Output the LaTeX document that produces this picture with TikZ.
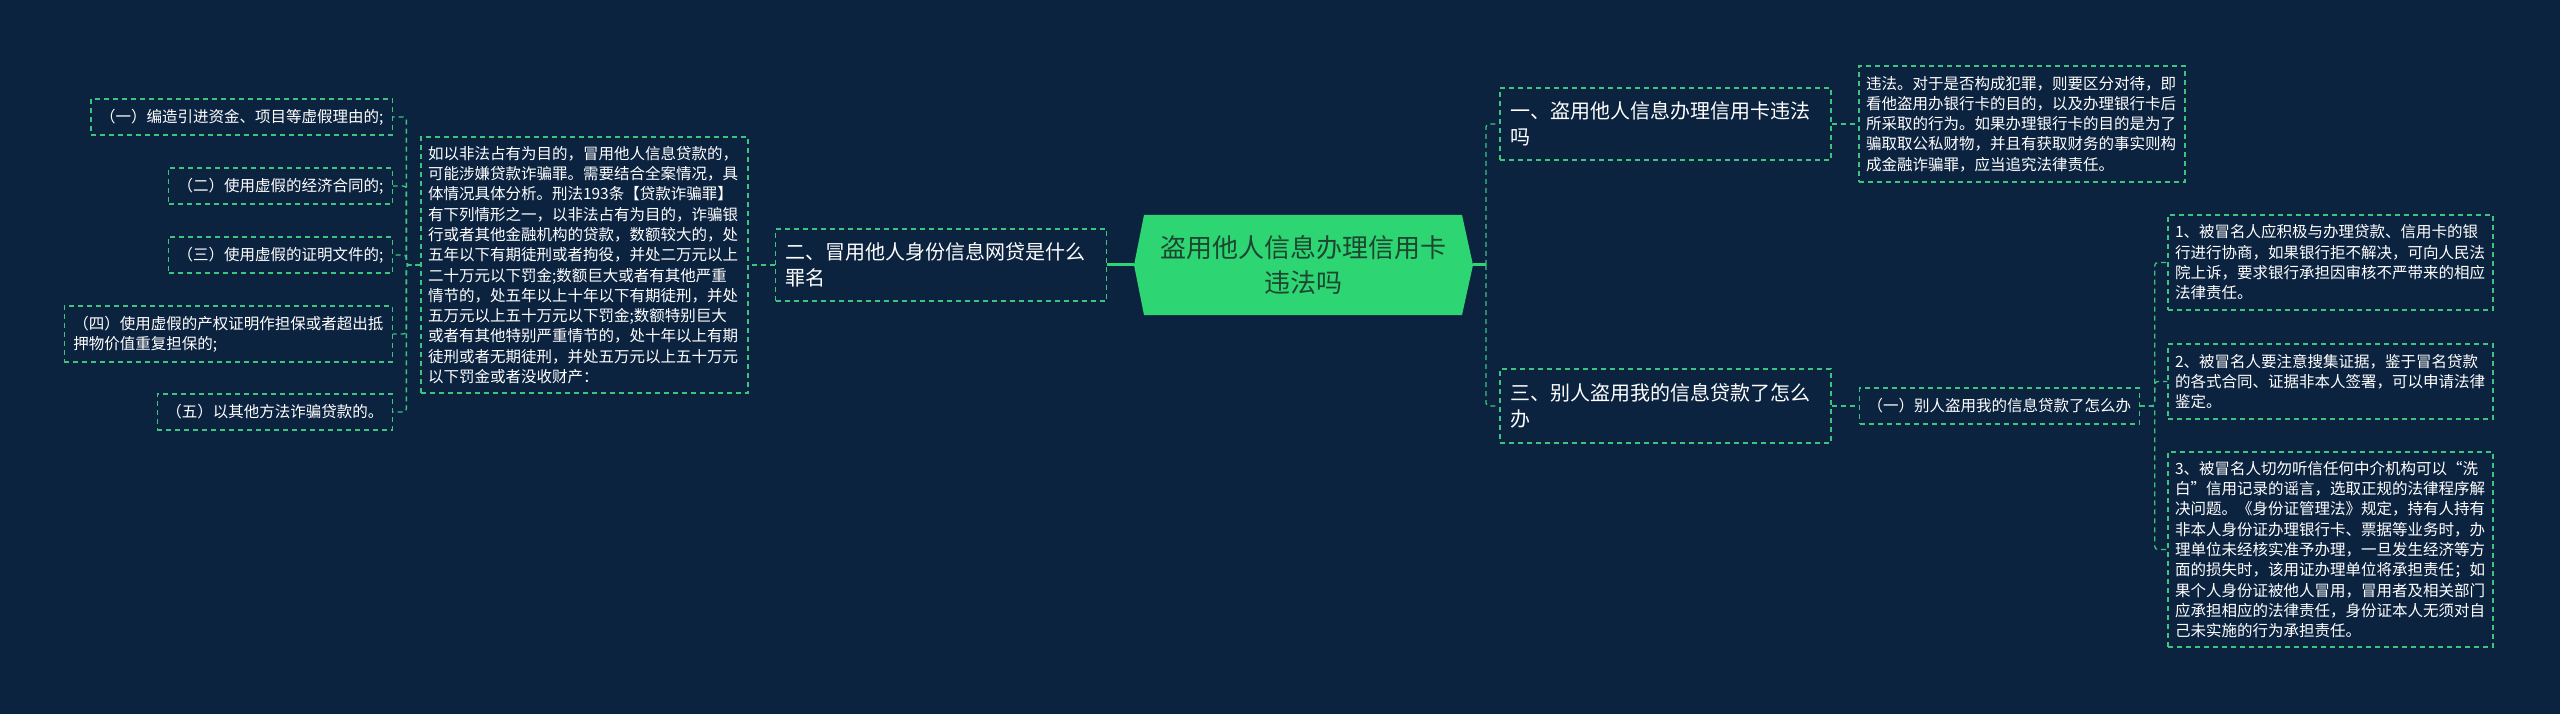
\documentclass[tikz,border=0pt]{standalone}
\usepackage{fontspec}
\setmainfont{Noto Sans CJK SC}
\definecolor{bgc}{HTML}{0C2340}
\definecolor{lg}{HTML}{3DC47E}
\definecolor{hexc}{HTML}{2ED573}
\definecolor{hextxt}{HTML}{1D4630}
\tikzset{
  bx/.style={draw=lg, dash pattern=on 5pt off 4pt, line width=1.3pt, text=white, inner ysep=0pt, align=left},
  sm/.style={font=\fontsize{15.5}{20.3}\selectfont},
  bigf/.style={font=\fontsize{20}{26.5}\selectfont},
  para/.style={bx, sm, text width=#1, inner xsep=7pt},
  item/.style={bx, sm, inner xsep=9pt, minimum height=36pt},
  topic/.style={bx, bigf, text width=311pt, inner xsep=10pt},
  conn/.style={draw=lg, dash pattern=on 5pt off 4pt, line width=1.3pt, rounded corners=3pt},
  solidconn/.style={draw=hexc, line width=3pt},
  hexnode/.style={minimum width=339pt, minimum height=100pt, inner sep=0pt, align=center, text=hextxt,
    font=\fontsize{26}{35}\selectfont,
    path picture={\fill[hexc] (path picture bounding box.west) -- ([xshift=10pt]path picture bounding box.north west) -- ([xshift=-11pt]path picture bounding box.north east) -- (path picture bounding box.east) -- ([xshift=-11pt]path picture bounding box.south east) -- ([xshift=10pt]path picture bounding box.south west) -- cycle;}}
}
\begin{document}
\begin{tikzpicture}[x=1pt,y=-1pt]
\useasboundingbox (0,0) rectangle (2560,714);
\fill[bgc] (0,0) rectangle (2560,714);

% centre
\node[hexnode] (c) at (1303.5,265) {盗用他人信息办理信用卡\\违法吗};

% left branch
\node[topic, minimum height=72pt] (n2) at (941,265) {二、冒用他人身份信息网贷是什么\\罪名};
\node[para=313pt, minimum height=256pt] (ld) at (584.5,265) {如以非法占有为目的，冒用他人信息贷款的，\\可能涉嫌贷款诈骗罪。需要结合全案情况，具\\体情况具体分析。刑法193条【贷款诈骗罪】\\有下列情形之一，以非法占有为目的，诈骗银\\行或者其他金融机构的贷款，数额较大的，处\\五年以下有期徒刑或者拘役，并处二万元以上\\二十万元以下罚金;数额巨大或者有其他严重\\情节的，处五年以上十年以下有期徒刑，并处\\五万元以上五十万元以下罚金;数额特别巨大\\或者有其他特别严重情节的，处十年以上有期\\徒刑或者无期徒刑，并处五万元以上五十万元\\以下罚金或者没收财产：};
\node[item, anchor=east] (i1) at (393,117) {（一）编造引进资金、项目等虚假理由的;};
\node[item, anchor=east] (i2) at (393,186) {（二）使用虚假的经济合同的;};
\node[item, anchor=east] (i3) at (393,255) {（三）使用虚假的证明文件的;};
\node[item, anchor=east, minimum height=56pt] (i4) at (393,334) {（四）使用虚假的产权证明作担保或者超出抵\\押物价值重复担保的;};
\node[item, anchor=east] (i5) at (393,412) {（五）以其他方法诈骗贷款的。};

% right branch
\node[topic, minimum height=72pt] (n1) at (1665.5,124) {一、盗用他人信息办理信用卡违法\\吗};
\node[topic, minimum height=74pt] (n3) at (1665.5,406) {三、别人盗用我的信息贷款了怎么\\办};
\node[para=312pt, minimum height=116pt] (r1) at (2022,124) {违法。对于是否构成犯罪，则要区分对待，即\\看他盗用办银行卡的目的，以及办理银行卡后\\所采取的行为。如果办理银行卡的目的是为了\\骗取取公私财物，并且有获取财务的事实则构\\成金融诈骗罪，应当追究法律责任。};
\node[item, anchor=west, inner xsep=8pt] (s1) at (1859,406) {（一）别人盗用我的信息贷款了怎么办};
\node[para=311pt, minimum height=95pt] (b1) at (2330.5,262.5) {1、被冒名人应积极与办理贷款、信用卡的银\\行进行协商，如果银行拒不解决，可向人民法\\院上诉，要求银行承担因审核不严带来的相应\\法律责任。};
\node[para=311pt, minimum height=75pt] (b2) at (2330.5,381.5) {2、被冒名人要注意搜集证据，鉴于冒名贷款\\的各式合同、证据非本人签署，可以申请法律\\鉴定。};
\node[para=311pt, minimum height=195pt] (b3) at (2330.5,549.5) {3、被冒名人切勿听信任何中介机构可以“洗\\白”信用记录的谣言，选取正规的法律程序解\\决问题。《身份证管理法》规定，持有人持有\\非本人身份证办理银行卡、票据等业务时，办\\理单位未经核实准予办理，一旦发生经济等方\\面的损失时，该用证办理单位将承担责任；如\\果个人身份证被他人冒用，冒用者及相关部门\\应承担相应的法律责任，身份证本人无须对自\\己未实施的行为承担责任。};

% connectors
\draw[solidconn] (c.west) -- (n2.east);
\draw[conn] (n2.west) -- (ld.east);
\foreach \i in {i1,i2,i3,i4,i5} { \draw[conn] (ld.west) -- ++(-14,0) |- (\i.east); }

\coordinate (jr) at (1486,265);
\draw[solidconn] (c.east) -- (jr);
\draw[conn] (jr) |- (n1.west);
\draw[conn] (jr) |- (n3.west);
\draw[conn] (n1.east) -- (r1.west);
\draw[conn] (n3.east) -- (s1.west);
\foreach \b in {b1,b2,b3} { \draw[conn] (s1.east) -- ++(15,0) |- (\b.west); }
\end{tikzpicture}
\end{document}
